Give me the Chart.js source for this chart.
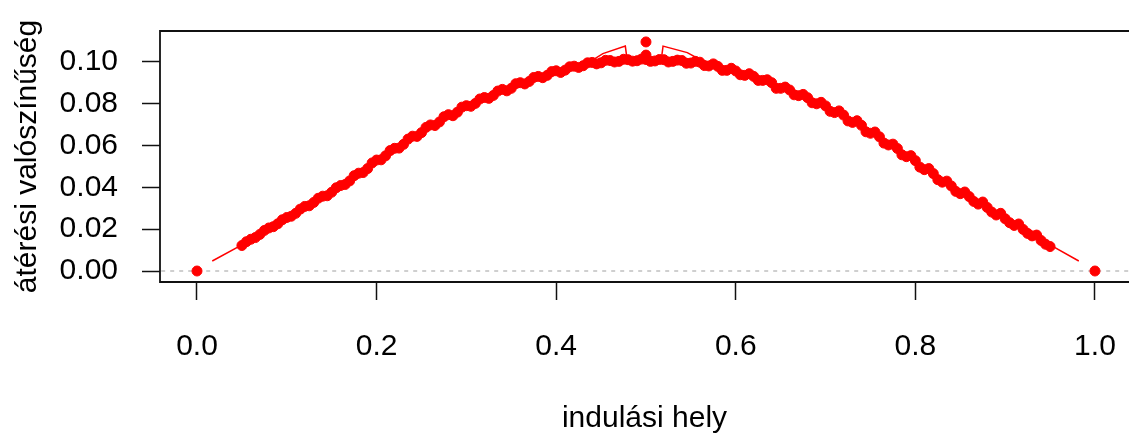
<!DOCTYPE html>
<html>
<head>
<meta charset="utf-8">
<script src="https://cdn.jsdelivr.net/npm/chart.js@4/dist/chart.umd.min.js"></script>
<style>
  html, body { margin: 0; padding: 0; background: #fff; overflow: hidden; }
  canvas { display: block; }
</style>
</head>
<body>
<canvas id="myChart" width="1129" height="441"></canvas>
<script>
// starting positions (indulási hely), run A
var startPosA = [0.05, 0.06, 0.07, 0.08, 0.09, 0.10, 0.11, 0.12, 0.13, 0.14,
  0.15, 0.16, 0.17, 0.18, 0.19, 0.20, 0.21, 0.22, 0.23, 0.24,
  0.25, 0.26, 0.27, 0.28, 0.29, 0.30, 0.31, 0.32, 0.33, 0.34,
  0.35, 0.36, 0.37, 0.38, 0.39, 0.40, 0.41, 0.42, 0.43, 0.44,
  0.45, 0.46, 0.47, 0.48, 0.49, 0.50, 0.51, 0.52, 0.53, 0.54,
  0.55, 0.56, 0.57, 0.58, 0.59, 0.60, 0.61, 0.62, 0.63, 0.64,
  0.65, 0.66, 0.67, 0.68, 0.69, 0.70, 0.71, 0.72, 0.73, 0.74,
  0.75, 0.76, 0.77, 0.78, 0.79, 0.80, 0.81, 0.82, 0.83, 0.84,
  0.85, 0.86, 0.87, 0.88, 0.89, 0.90, 0.91, 0.92, 0.93, 0.94, 0.95];

var runA = [0.0122, 0.0152, 0.0175, 0.0206, 0.0226, 0.0256, 0.0276, 0.0309, 0.0328, 0.0358,
  0.0377, 0.0409, 0.0431, 0.0468, 0.0490, 0.0531, 0.0551, 0.0587, 0.0606, 0.0645,
  0.0662, 0.0699, 0.0713, 0.0748, 0.0760, 0.0791, 0.0802, 0.0830, 0.0840, 0.0869,
  0.0874, 0.0901, 0.0907, 0.0931, 0.0936, 0.0958, 0.0961, 0.0980, 0.0982, 0.0998,
  0.0996, 0.1007, 0.1003, 0.1011, 0.1006, 0.1012, 0.1005, 0.1011, 0.1003, 0.1007,
  0.0995, 0.0999, 0.0981, 0.0979, 0.0960, 0.0957, 0.0936, 0.0931, 0.0912, 0.0901,
  0.0874, 0.0866, 0.0839, 0.0829, 0.0800, 0.0790, 0.0758, 0.0746, 0.0711, 0.0697,
  0.0659, 0.0642, 0.0603, 0.0586, 0.0547, 0.0528, 0.0485, 0.0466, 0.0425, 0.0407,
  0.0370, 0.0356, 0.0320, 0.0304, 0.0268, 0.0250, 0.0218, 0.0199, 0.0168, 0.0146, 0.0117];

// run B, starting positions in between
var startPosB = [0.055, 0.065, 0.075, 0.085, 0.095, 0.105, 0.115, 0.125, 0.135, 0.145,
  0.155, 0.165, 0.175, 0.185, 0.195, 0.205, 0.215, 0.225, 0.235, 0.245,
  0.255, 0.265, 0.275, 0.285, 0.295, 0.305, 0.315, 0.325, 0.335, 0.345,
  0.355, 0.365, 0.375, 0.385, 0.395, 0.405, 0.415, 0.425, 0.435, 0.445,
  0.455, 0.465, 0.475, 0.485, 0.495, 0.505, 0.515, 0.525, 0.535, 0.545,
  0.555, 0.565, 0.575, 0.585, 0.595, 0.605, 0.615, 0.625, 0.635, 0.645,
  0.655, 0.665, 0.675, 0.685, 0.695, 0.705, 0.715, 0.725, 0.735, 0.745,
  0.755, 0.765, 0.775, 0.785, 0.795, 0.805, 0.815, 0.825, 0.835, 0.845,
  0.855, 0.865, 0.875, 0.885, 0.895, 0.905, 0.915, 0.925, 0.935, 0.945];

var runB = [0.0140, 0.0160, 0.0194, 0.0212, 0.0245, 0.0262, 0.0296, 0.0312, 0.0348, 0.0360,
  0.0398, 0.0414, 0.0456, 0.0471, 0.0517, 0.0532, 0.0576, 0.0588, 0.0631, 0.0644,
  0.0687, 0.0696, 0.0738, 0.0743, 0.0784, 0.0788, 0.0823, 0.0826, 0.0861, 0.0862,
  0.0896, 0.0895, 0.0926, 0.0925, 0.0954, 0.0950, 0.0977, 0.0974, 0.0996, 0.0991,
  0.1008, 0.1000, 0.1013, 0.1004, 0.1014, 0.1003, 0.1012, 0.1000, 0.1009, 0.0994,
  0.1003, 0.0983, 0.0991, 0.0960, 0.0970, 0.0939, 0.0944, 0.0912, 0.0915, 0.0874,
  0.0880, 0.0843, 0.0845, 0.0805, 0.0807, 0.0764, 0.0766, 0.0718, 0.0719, 0.0666,
  0.0665, 0.0612, 0.0607, 0.0556, 0.0552, 0.0497, 0.0490, 0.0437, 0.0430, 0.0381,
  0.0378, 0.0333, 0.0330, 0.0282, 0.0276, 0.0231, 0.0225, 0.0180, 0.0172, 0.0128];

// thin connecting line
var lineX = [0.017, 0.05, 0.10, 0.15, 0.20, 0.25, 0.30, 0.35, 0.40, 0.44, 0.452, 0.477, 0.479,
  0.50, 0.517, 0.519, 0.546, 0.56, 0.60, 0.65, 0.70, 0.75, 0.80, 0.85, 0.90, 0.95, 0.982];
var lineY = [0.0048, 0.0125, 0.0253, 0.0380, 0.0525, 0.0665, 0.0785, 0.0878, 0.0952, 0.1008, 0.1040, 0.1076, 0.1010,
  0.1012, 0.1010, 0.1076, 0.1045, 0.1012, 0.0952, 0.0878, 0.0785, 0.0665, 0.0525, 0.0380, 0.0253, 0.0125, 0.0048];

// end points and the two points at the middle
var extraX = [0.0, 0.5, 0.5, 1.0];
var extraY = [0.0, 0.1096, 0.1033, 0.0];

var xTicks = [0, 0.2, 0.4, 0.6, 0.8, 1.0];
var yTicks = [0, 0.02, 0.04, 0.06, 0.08, 0.10];

function pts(xs, ys) {
  return xs.map(function (x, i) { return { x: x, y: ys[i] }; });
}

var red = '#ff0000';
var font = "'Liberation Sans', Arial, sans-serif";

const boxPlugin = {
  id: 'box',
  afterDraw(chart) {
    const c = chart.ctx, a = chart.chartArea;
    c.save();
    c.strokeStyle = '#111';
    c.lineWidth = 1.8;
    c.beginPath();
    c.moveTo(a.right + 5, a.top);
    c.lineTo(a.left, a.top);
    c.lineTo(a.left, a.bottom);
    c.lineTo(a.right + 5, a.bottom);
    c.stroke();
    c.restore();
  }
};

const ctx = document.getElementById('myChart').getContext('2d');
let myChart = new Chart(ctx, {
  type: 'scatter',
  data: {
    datasets: [
      {
        data: pts(extraX, extraY),
        backgroundColor: red,
        borderColor: red,
        pointRadius: 5,
        showLine: false,
        order: 0
      },
      {
        data: pts(startPosA, runA),
        backgroundColor: red,
        borderColor: red,
        pointRadius: 5,
        borderWidth: 1,
        showLine: true,
        order: 1
      },
      {
        data: pts(startPosB, runB),
        backgroundColor: red,
        borderColor: red,
        pointRadius: 5,
        borderWidth: 1,
        showLine: true,
        order: 2
      },
      {
        data: pts(lineX, lineY),
        borderColor: red,
        borderWidth: 1.5,
        pointRadius: 0,
        showLine: true,
        order: 3
      },
      {
        data: [{ x: -0.1, y: 0 }, { x: 1.1, y: 0 }],
        borderColor: '#c0c0c0',
        borderWidth: 1.5,
        borderDash: [4, 5],
        pointRadius: 0,
        showLine: true,
        order: 9
      }
    ]
  },
  options: {
    responsive: false,
    animation: false,
    layout: { autoPadding: false, padding: { top: 31, right: 0, left: 0, bottom: 0 } },
    scales: {
      x: {
        type: 'linear',
        min: -0.0412,
        max: 1.0379,
        afterFit: function (s) {
          s.height = 159;
          s.paddingLeft = 0;
          s.paddingRight = 0;
        },
        afterBuildTicks: function (s) { s.ticks = xTicks.map(function (v) { return { value: v }; }); },
        ticks: {
          color: '#000',
          font: { family: font, size: 30 },
          padding: 29,
          maxRotation: 0,
          callback: function (v) { return v.toFixed(1); }
        },
        grid: {
          drawOnChartArea: false,
          drawTicks: true,
          tickLength: 18,
          tickColor: '#111',
          tickWidth: 1.5
        },
        border: { display: false },
        title: {
          display: true,
          text: 'indulási hely',
          color: '#000',
          font: { family: font, size: 30 },
          padding: { top: 0, bottom: 4 }
        }
      },
      y: {
        type: 'linear',
        min: -0.00526,
        max: 0.11483,
        afterFit: function (s) {
          s.width = 160;
          s.paddingTop = 0;
          s.paddingBottom = 0;
        },
        afterBuildTicks: function (s) { s.ticks = yTicks.map(function (v) { return { value: v }; }); },
        ticks: {
          color: '#000',
          font: { family: font, size: 30 },
          padding: 24,
          callback: function (v) { return v.toFixed(2); }
        },
        grid: {
          drawOnChartArea: false,
          drawTicks: true,
          tickLength: 18,
          tickColor: '#111',
          tickWidth: 1.5
        },
        border: { display: false },
        title: {
          display: true,
          text: 'átérési valószínűség',
          color: '#000',
          font: { family: font, size: 30 },
          padding: { top: 10, bottom: 0 }
        }
      }
    },
    plugins: {
      legend: { display: false },
      tooltip: { enabled: false }
    }
  },
  plugins: [boxPlugin]
});
</script>
</body>
</html>
